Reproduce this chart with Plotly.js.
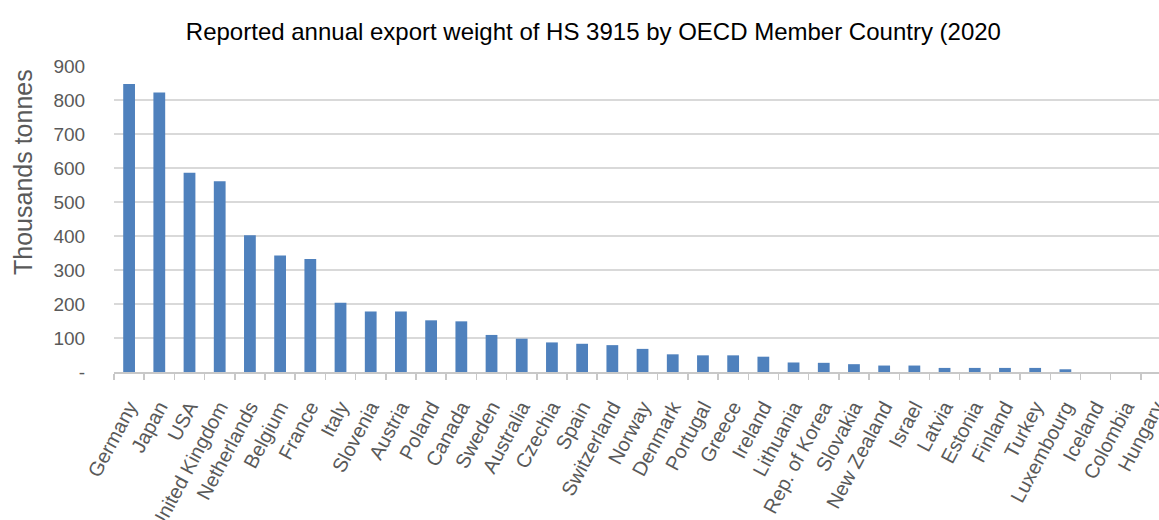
<!DOCTYPE html>
<html>
<head>
<meta charset="utf-8">
<script src="https://cdn.plot.ly/plotly-3.0.1.min.js"></script>
<style>html,body{margin:0;padding:0;background:#fff;}#chart{width:1159px;height:520px;}</style>
</head>
<body>
<div id="chart"></div>
<script>
const countries = ["Germany","Japan","USA","United Kingdom","Netherlands","Belgium","France","Italy","Slovenia","Austria","Poland","Canada","Sweden","Australia","Czechia","Spain","Switzerland","Norway","Denmark","Portugal","Greece","Ireland","Lithuania","Rep. of Korea","Slovakia","New Zealand","Israel","Latvia","Estonia","Finland","Turkey","Luxembourg","Iceland","Colombia","Hungary"];
const exportWeight = [847,822,586,561,402,343,332,204,178,178,152,149,109,98,87,83,79,68,52,49,49,45,28,27,23,19,19,12,12,12,12,8,0,0,0];
const yTickVals = [0,100,200,300,400,500,600,700,800,900];
const yTickText = ["-","100","200","300","400","500","600","700","800","900"];
const yTitle = "Thousands tonnes";
const chartTitle = "Reported annual export weight of HS 3915 by OECD Member Country (2020";

const trace = {
  type: 'bar',
  x: countries,
  y: exportWeight,
  marker: {color: '#4f81bd', line: {width: 0}},
  width: 0.39,
  hoverinfo: 'x+y'
};

const plotLeft = 114, plotTop = 66, plotBottom = 372, W = 1159, H = 520;
const plotW = W - plotLeft, plotH = plotBottom - plotTop;

const layout = {
  width: W, height: H,
  margin: {l: plotLeft, r: 0, t: plotTop, b: H - plotBottom, pad: 0},
  paper_bgcolor: '#fff', plot_bgcolor: '#fff',
  showlegend: false,
  font: {family: 'Liberation Sans, Arial, sans-serif', color: '#595959'},
  title: {
    text: chartTitle,
    font: {family: 'Liberation Sans Narrow, Arial Narrow, Liberation Sans, Arial, sans-serif', size: 24, color: '#000'},
    x: 0.512, xanchor: 'center', y: 0.94, yanchor: 'middle', yref: 'container'
  },
  xaxis: {
    type: 'category',
    range: [-0.5, 34.1],
    tickangle: -62,
    tickson: 'boundaries',
    ticks: 'outside', ticklen: 6, tickcolor: '#c8c8c8', tickwidth: 1.5,
    showline: true, linecolor: '#c8c8c8', linewidth: 1.5,
    showgrid: false,
    tickfont: {size: 20, color: '#595959'},
    ticklabelstandoff: 14,
    fixedrange: true
  },
  yaxis: {
    range: [0, 900],
    tickvals: yTickVals, ticktext: yTickText,
    showgrid: true, gridcolor: '#d9d9d9', gridwidth: 1.5,
    zeroline: false, showline: false,
    ticks: 'outside', ticklen: 24, tickcolor: 'rgba(0,0,0,0)',
    tickfont: {size: 19, color: '#595959'},
    fixedrange: true
  },
  annotations: [{
    text: yTitle, textangle: -90,
    xref: 'paper', yref: 'paper',
    x: -(plotLeft - 23) / plotW, y: (plotBottom - 172) / plotH,
    xanchor: 'center', yanchor: 'middle', showarrow: false,
    font: {size: 25, color: '#595959'}
  }],
  bargap: 0.6
};

Plotly.newPlot('chart', [trace], layout, {displayModeBar: false, staticPlot: true});
</script>
</body>
</html>
